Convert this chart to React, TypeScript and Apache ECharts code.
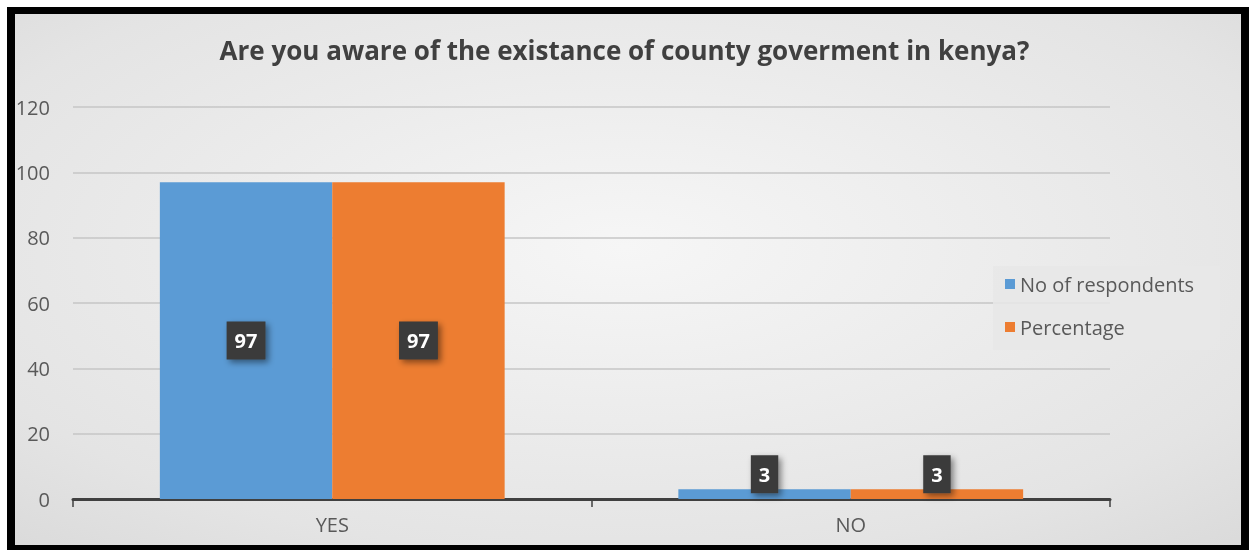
import React, { useEffect, useRef } from "react";
import * as echarts from "echarts";

const categories = ["YES", "NO"];
const respondents = [97, 3];
const percentage = [97, 3];
const seriesNames = ["No of respondents", "Percentage"];
const titleText = "Are you aware of the existance of county goverment in kenya?";

const makeData = (vals: number[]) =>
  vals.map((v) => ({
    value: v,
    label: v > 20 ? { position: "inside" } : { position: "top", distance: -4 },
  }));

export default function App() {
  const ref = useRef<HTMLDivElement>(null);
  useEffect(() => {
    if (!ref.current) return;
    const chart = echarts.init(ref.current, null, { renderer: "svg" });
    const labelStyle = {
      show: true,
      color: "#ffffff",
      fontWeight: "bold",
      fontSize: 20,
      fontFamily: "Open Sans",
      backgroundColor: "#3a3a3a",
      padding: [9, 8, 9, 8],
      shadowColor: "rgba(0,0,0,0.45)",
      shadowBlur: 6,
      shadowOffsetX: 3,
      shadowOffsetY: 3,
    };
    chart.setOption({
      animation: false,
      backgroundColor: new echarts.graphic.RadialGradient(0.5, 0.45, 1.25, [
        { offset: 0, color: "#f6f6f6" },
        { offset: 0.45, color: "#e4e4e4" },
        { offset: 1, color: "#bdbdbd" },
      ]),
      title: {
        text: titleText,
        left: "center",
        top: 32,
        textStyle: {
          fontFamily: "Open Sans",
          fontWeight: "bold",
          fontSize: 26,
          color: "#404040",
        },
      },
      legend: {
        orient: "vertical",
        left: 993,
        top: 266,
        padding: [8, 26, 13, 12],
        itemGap: 23,
        itemWidth: 10,
        itemHeight: 10,
        icon: "rect",
        backgroundColor: "rgba(232,232,232,0.85)",
        textStyle: { fontFamily: "Open Sans", fontSize: 20, lineHeight: 20, color: "#595959" },
        data: seriesNames,
      },
      grid: { left: 73, right: 139, top: 107, bottom: 51 },
      xAxis: {
        type: "category",
        data: categories,
        axisLine: { lineStyle: { color: "#404040", width: 3 } },
        axisTick: { show: true, length: 8, lineStyle: { color: "#404040", width: 1.5 } },
        axisLabel: { fontFamily: "Open Sans", fontSize: 20, color: "#595959", margin: 15 },
      },
      yAxis: {
        type: "value",
        min: 0,
        max: 120,
        interval: 20,
        axisLine: { show: false },
        axisTick: { show: false },
        axisLabel: { fontFamily: "Open Sans", fontSize: 20, color: "#595959", margin: 23 },
        splitLine: { lineStyle: { color: "#c6c6c6", width: 1.5 } },
      },
      series: [
        {
          name: seriesNames[0],
          type: "bar",
          data: makeData(respondents),
          itemStyle: { color: "#5b9bd5" },
          barGap: "0%",
          barCategoryGap: "33.5%",
          label: labelStyle,
        },
        {
          name: seriesNames[1],
          type: "bar",
          data: makeData(percentage),
          itemStyle: { color: "#ed7d31" },
          barGap: "0%",
          barCategoryGap: "33.5%",
          label: labelStyle,
        },
      ],
      graphic: [
        { type: "rect", shape: { x: 0, y: 0, width: 1249, height: 7 }, style: { fill: "#ffffff" }, z: 100 },
        { type: "rect", shape: { x: 0, y: 0, width: 7, height: 550 }, style: { fill: "#ffffff" }, z: 100 },
        { type: "rect", shape: { x: 7, y: 7, width: 1242, height: 7 }, style: { fill: "#000000" }, z: 100 },
        { type: "rect", shape: { x: 7, y: 7, width: 8, height: 543 }, style: { fill: "#000000" }, z: 100 },
        { type: "rect", shape: { x: 1241, y: 7, width: 8, height: 543 }, style: { fill: "#000000" }, z: 100 },
        { type: "rect", shape: { x: 7, y: 545, width: 1242, height: 5 }, style: { fill: "#000000" }, z: 100 },
      ],
    });
    return () => chart.dispose();
  }, []);
  return (
    <div style={{ position: "fixed", left: 0, top: 0, width: 1249, height: 550 }}>
      <div ref={ref} style={{ width: 1249, height: 550 }} />
    </div>
  );
}
